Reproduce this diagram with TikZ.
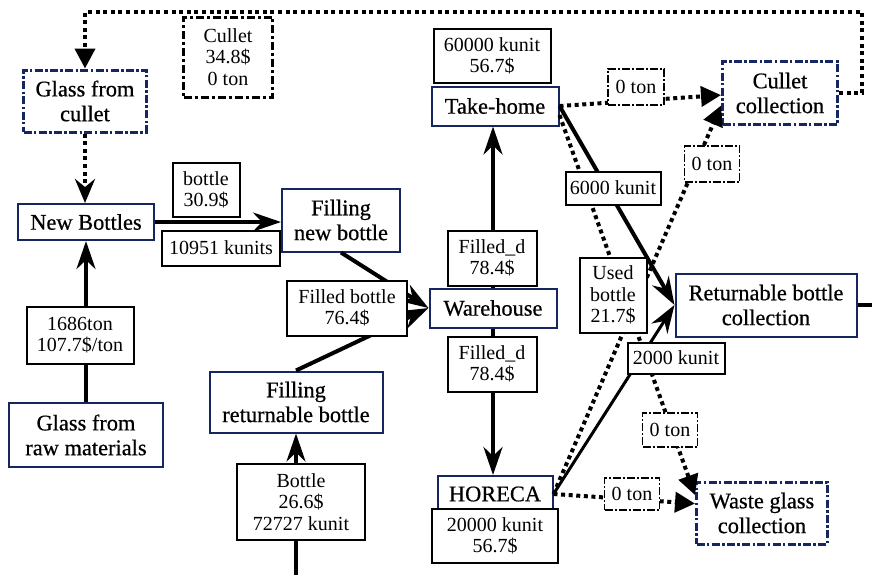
\documentclass[tikz,border=0pt]{standalone}
\usepackage{fontspec}
\setmainfont{LiberationSerif}[Extension=.ttf,UprightFont=*-Regular,BoldFont=*-Bold,ItalicFont=*-Italic,BoldItalicFont=*-BoldItalic]
\newfontfamily\procfont{LiberationSerif}[Extension=.ttf,UprightFont=*-Regular,FakeBold=0.6]
\usetikzlibrary{arrows.meta}
\definecolor{navy}{RGB}{22,38,96}
\begin{document}
\begin{tikzpicture}[x=0.5pt,y=-0.5pt,
  wh/.style 2 args={minimum width={#1*0.5pt},minimum height={#2*0.5pt}},
  proc/.style={draw=navy,line width=1pt,fill=white,align=center,inner sep=0pt,font=\procfont\fontsize{11.2}{12.4}\selectfont},
  dproc/.style={proc,line width=1.5pt,dash pattern=on 4pt off 1.2pt on 1.2pt off 1.2pt},
  lab/.style={draw=black,line width=1pt,fill=white,align=center,inner sep=0pt,font=\rmfamily\fontsize{10}{10.6}\selectfont},
  dlab/.style={lab,line width=0.9pt,dash pattern=on 4pt off 1pt on 1pt off 1pt},
  clab/.style={lab,line width=1.5pt,dash pattern=on 4pt off 1.5pt on 1.5pt off 1.5pt},
  flow/.style={line width=2pt,-{Stealth[length=14pt,width=9.5pt,inset=4.5pt]}},
  dflow/.style={line width=2pt,dash pattern=on 2pt off 1.8pt,-{Triangle[length=10pt,width=10pt]}},
]
\useasboundingbox (0,0) rectangle (872,575);
% process nodes
\node[dproc,wh={123}{62}] (gfc) at (85,101) {Glass from\\cullet};
\node[proc,wh={136}{36}] (nb) at (86,222) {New Bottles};
\node[proc,wh={154}{64}] (raw) at (86,435) {Glass from\\raw materials};
\node[proc,wh={118}{63}] (fnb) at (341,220) {Filling\\new bottle};
\node[proc,wh={173}{61}] (frb) at (296,402) {Filling\\returnable bottle};
\node[proc,wh={127}{39}] (ware) at (493,308) {Warehouse};
\node[proc,wh={127}{39}] (th) at (495,106) {Take-home};
\node[proc,wh={115}{36}] (hor) at (495,494) {HORECA};
\node[proc,wh={181}{63}] (rbc) at (766,305) {Returnable bottle\\collection};
\node[dproc,wh={115}{63}] (cc) at (780,93) {Cullet\\collection};
\node[dproc,wh={131}{62}] (wg) at (762,513) {Waste glass\\collection};
\coordinate (bin) at (296,575);
\coordinate (rout) at (872,305);
\coordinate (lp1) at (862,12);
% connectors
\draw[flow] (raw) -- (nb);
\draw[dflow,-{Stealth[length=12pt,width=10pt,inset=4pt]}] (gfc.south) -- (gfc.south |- nb.north);
\draw[flow] (nb.east) -- (nb.east -| fnb.west);
\draw[flow] (fnb.south) -- (ware.west);
\draw[flow] (frb.north) -- (ware.west);
\draw[flow] (bin) -- (frb.south);
\draw[flow] (ware.north) -- (ware.north |- th.south);
\draw[flow] (ware.south) -- (ware.south |- hor.north);
\draw[flow] (th.east) -- (rbc.west);
\draw[flow,line width=1.5pt] (hor.east) -- (rbc.west);
\draw[dflow] (th.east) -- (cc.182);
\draw[dflow] (hor.east) -- (cc.192);
\draw[dflow] (th.-8) -- (wg.165);
\draw[dflow] (hor.east) -- (wg.172);
\draw[dflow] (cc.east) -| (lp1) -| (gfc.north);
\draw[line width=2pt] (rbc.east) -- (rout);
% labels
\node[clab,wh={89}{80}] (lcul) at (228,57) {Cullet\\34.8\$\\0 ton};
\node[lab,wh={67}{54}] (lbot) at (206,190) {bottle\\30.9\$};
\node[lab,wh={118}{35}] (lkun) at (221,248) {10951 kunits};
\node[lab,wh={107}{57}] (lraw) at (80,335) {1686ton\\107.7\$/ton};
\node[lab,wh={120}{55}] (lfil) at (347,308) {Filled bottle\\76.4\$};
\node[lab,wh={89}{55}] (lfdu) at (492,258) {Filled\_d\\78.4\$};
\node[lab,wh={89}{55}] (lfdl) at (492,364) {Filled\_d\\78.4\$};
\node[lab,wh={117}{54}] (lth) at (492,56) {60000 kunit\\56.7\$};
\node[lab,wh={126}{54}] (lhor) at (495,536) {20000 kunit\\56.7\$};
\node[lab,wh={128}{76}] (lbin) at (301,502) {Bottle\\26.6\$\\72727 kunit};
\node[lab,wh={95}{33}] (l6k) at (613,188) {6000 kunit};
\node[lab,wh={67}{75}] (lused) at (613,295) {Used\\bottle\\21.7\$};
\node[lab,wh={97}{31}] (l2k) at (676,358) {2000 kunit};
\node[dlab,wh={56}{36}] (lz1) at (636,87) {0 ton};
\node[dlab,wh={55}{36}] (lz2) at (712,164) {0 ton};
\node[dlab,wh={55}{34}] (lz3) at (670,430) {0 ton};
\node[dlab,wh={55}{32}] (lz4) at (632,494) {0 ton};
\end{tikzpicture}
\end{document}
